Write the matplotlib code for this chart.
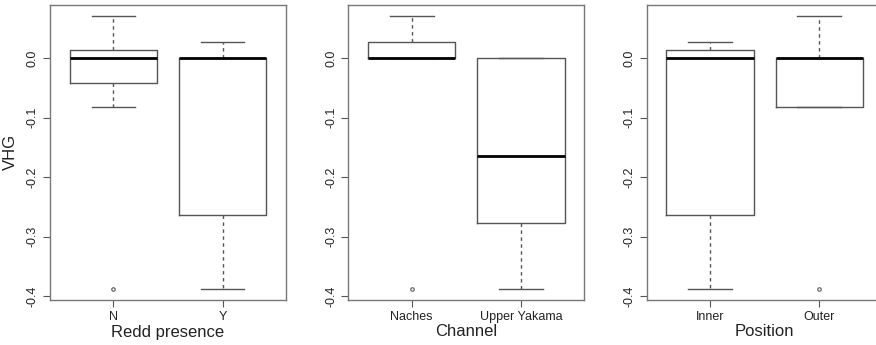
import matplotlib
matplotlib.use("Agg")
import matplotlib.pyplot as plt

plt.rcParams['font.family'] = ['Liberation Sans', 'DejaVu Sans']
plt.rcParams['axes.unicode_minus'] = False

# VHG summaries: whisker low, Q1, median, Q3, whisker high, outliers
redd_groups = ["N", "Y"]
redd_whislo = [-0.083, -0.387]
redd_q1 = [-0.042, -0.263]
redd_med = [0.0, 0.0]
redd_q3 = [0.013, 0.0]
redd_whishi = [0.070, 0.027]
redd_fliers = [[-0.387], []]

channel_groups = ["Naches", "Upper Yakama"]
channel_whislo = [0.0, -0.387]
channel_q1 = [0.0, -0.276]
channel_med = [0.0, -0.165]
channel_q3 = [0.027, 0.0]
channel_whishi = [0.070, 0.0]
channel_fliers = [[-0.387], []]

position_groups = ["Inner", "Outer"]
position_whislo = [-0.387, -0.083]
position_q1 = [-0.263, -0.083]
position_med = [0.0, 0.0]
position_q3 = [0.013, 0.0]
position_whishi = [0.027, 0.070]
position_fliers = [[], [-0.387]]

y_ticks = [0.0, -0.1, -0.2, -0.3, -0.4]

panels = [
    ("Redd presence", redd_groups, redd_whislo, redd_q1, redd_med, redd_q3, redd_whishi, redd_fliers),
    ("Channel", channel_groups, channel_whislo, channel_q1, channel_med, channel_q3, channel_whishi, channel_fliers),
    ("Position", position_groups, position_whislo, position_q1, position_med, position_q3, position_whishi, position_fliers),
]

fig = plt.figure(figsize=(8.76, 3.45), dpi=100)
lefts = [50, 348.3, 646.7]
gray = "#555555"

for left, (xlabel, groups, wlo, q1, med, q3, whi, fl) in zip(lefts, panels):
    ax = fig.add_axes([left / 876, 1 - 300 / 345, 236 / 876, 295 / 345])
    stats = []
    for i in range(len(groups)):
        stats.append(dict(whislo=wlo[i], q1=q1[i], med=med[i], q3=q3[i],
                          whishi=whi[i], fliers=fl[i], label=groups[i]))
    ax.bxp(stats, positions=[1, 2], widths=0.8, showfliers=True,
           boxprops=dict(color=gray, linewidth=1.0),
           medianprops=dict(color="black", linewidth=2.0),
           whiskerprops=dict(color=gray, linewidth=1.0, linestyle=(0, (2.5, 2.5))),
           capprops=dict(color=gray, linewidth=1.0),
           capwidths=0.4,
           flierprops=dict(marker="o", markersize=2.5, markerfacecolor="none",
                           markeredgecolor=gray, markeredgewidth=0.8))
    ax.set_xlim(0.42, 2.58)
    ax.set_ylim(-0.4059, 0.0887)
    ax.set_yticks(y_ticks)
    ax.set_yticklabels([f"{v:.1f}" for v in y_ticks], rotation=90, va="center")
    ax.tick_params(axis="y", length=5, pad=3, labelsize=9, colors=gray, labelcolor="#222222")
    ax.tick_params(axis="x", length=5, pad=3, labelsize=9, colors=gray, labelcolor="#222222")
    ax.set_xlabel(xlabel, fontsize=12, labelpad=1, color="#222222")
    for sp in ax.spines.values():
        sp.set_color("#777777")
        sp.set_linewidth(1.0)

fig.text(10 / 876, 1 - 152 / 345, "VHG", rotation=90, fontsize=12,
         ha="center", va="center", color="#222222")

fig.savefig("out.png", dpi=100)
